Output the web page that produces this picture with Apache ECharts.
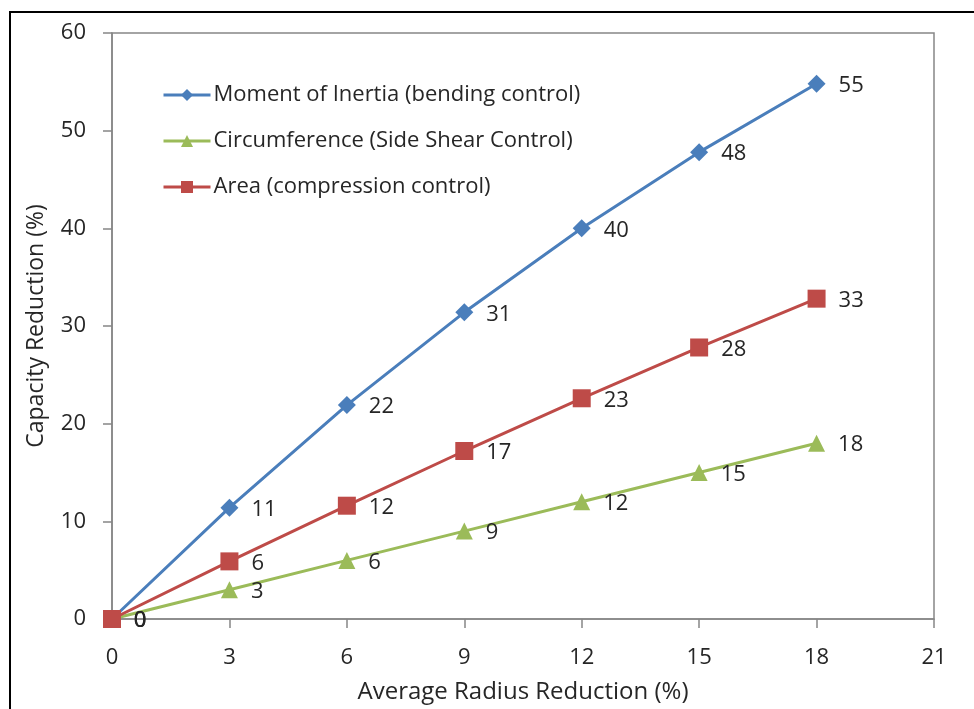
<!DOCTYPE html>
<html>
<head>
<meta charset="utf-8">
<script src="https://cdn.jsdelivr.net/npm/echarts@6/dist/echarts.min.js"></script>
<style>
  html, body { margin: 0; padding: 0; background: #fff; }
  #chart { width: 974px; height: 709px; }
</style>
</head>
<body>
<div id="chart"></div>
<script>
// Radius reduction (%) on the x axis
const radiusReduction = [0, 3, 6, 9, 12, 15, 18];
// Capacity reduction (%) for each controlling property
const momentOfInertia = [0, 11.4, 21.9, 31.4, 40.0, 47.8, 54.8];
const circumference = [0, 3, 6, 9, 12, 15, 18];
const area = [0, 5.9, 11.6, 17.2, 22.6, 27.8, 32.8];
const seriesNames = [
  'Moment of Inertia (bending control)',
  'Circumference (Side Shear Control)',
  'Area (compression control)'
];

const FONT = '"Open Sans", sans-serif';
const TEXT = '#262626';
const AXIS = '#868686';

const pairs = (ys) => radiusReduction.map((x, i) => [x, ys[i]]);

function lineSeries(name, ys, color, symbol, size) {
  return {
    name: name,
    type: 'line',
    data: pairs(ys),
    symbol: symbol,
    symbolSize: size,
    itemStyle: { color: color },
    lineStyle: { color: color, width: 3 },
    label: {
      show: true,
      position: 'right',
      distance: 13,
      offset: [0, 2],
      color: TEXT,
      fontFamily: FONT,
      fontSize: 22,
      formatter: (p) => Math.round(p.value[1])
    },
    emphasis: { disabled: true },
    animation: false
  };
}

const chart = echarts.init(document.getElementById('chart'), null, { renderer: 'canvas' });
chart.setOption({
  backgroundColor: '#fff',
  animation: false,
  graphic: [{
    type: 'rect',
    shape: { x: 10, y: 12, width: 1000, height: 760 },
    style: { fill: 'none', stroke: '#000', lineWidth: 2 },
    silent: true
  }],
  grid: {
    left: 112, top: 33, right: 40, bottom: 89,
    show: true, borderColor: AXIS, borderWidth: 1.5, backgroundColor: 'transparent'
  },
  legend: {
    orient: 'vertical',
    left: 157, top: 79,
    itemWidth: 47, itemHeight: 15,
    itemGap: 24,
    data: seriesNames,
    lineStyle: { width: 3 },
    textStyle: { fontFamily: FONT, fontSize: 22, color: TEXT, padding: [0, 0, 0, -2] },
    selectedMode: false
  },
  xAxis: {
    type: 'value',
    min: 0, max: 21, interval: 3,
    name: 'Average Radius Reduction (%)',
    nameLocation: 'middle',
    nameGap: 61,
    nameTextStyle: { fontFamily: FONT, fontSize: 24, color: TEXT },
    axisLine: { show: true, lineStyle: { color: AXIS, width: 1.5 } },
    axisTick: { show: true, inside: false, length: 9, lineStyle: { color: AXIS, width: 1.5 } },
    axisLabel: { margin: 28, fontFamily: FONT, fontSize: 22, color: TEXT },
    splitLine: { show: false }
  },
  yAxis: {
    type: 'value',
    min: 0, max: 60, interval: 10,
    name: 'Capacity Reduction (%)',
    nameLocation: 'middle',
    nameGap: 64,
    nameRotate: 90,
    nameTextStyle: { fontFamily: FONT, fontSize: 23, color: TEXT },
    axisLine: { show: true, lineStyle: { color: AXIS, width: 1.5 } },
    axisTick: { show: true, inside: false, length: 9, lineStyle: { color: AXIS, width: 1.5 } },
    axisLabel: { margin: 26, fontFamily: FONT, fontSize: 22, color: TEXT },
    splitLine: { show: false }
  },
  series: [
    lineSeries(seriesNames[0], momentOfInertia, '#4A7EBB', 'diamond', 18),
    lineSeries(seriesNames[1], circumference, '#9BBB59', 'triangle', 17),
    lineSeries(seriesNames[2], area, '#BE4B48', 'rect', 18)
  ]
});
</script>
</body>
</html>
